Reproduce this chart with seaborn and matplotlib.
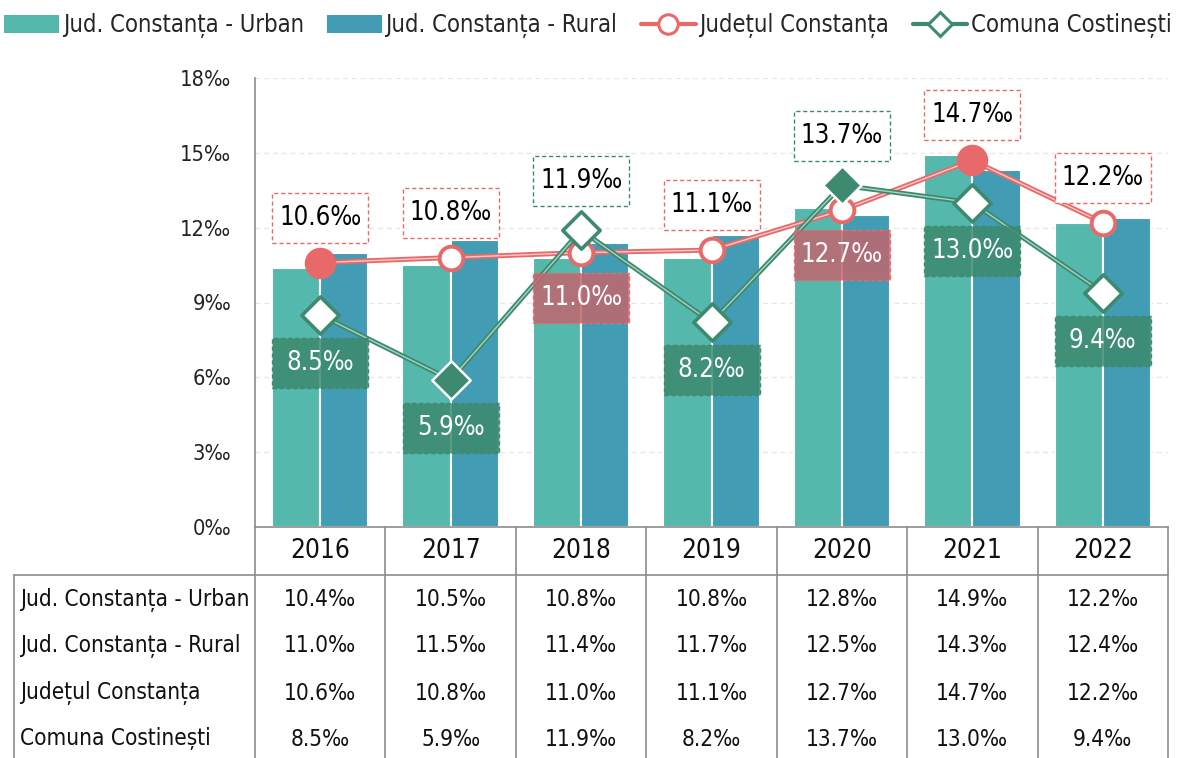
import numpy as np
import pandas as pd
import matplotlib
matplotlib.use("Agg")
import matplotlib.pyplot as plt
import matplotlib.patheffects as pe
import matplotlib.transforms as mtransforms
from matplotlib.lines import Line2D
from matplotlib.patches import Patch, Rectangle
from matplotlib import font_manager as fm
from matplotlib.font_manager import FontProperties
from matplotlib.textpath import TextPath
import seaborn as sns

# ---------------- data ----------------
years = ["2016", "2017", "2018", "2019", "2020", "2021", "2022"]
urban = [10.4, 10.5, 10.8, 10.8, 12.8, 14.9, 12.2]
rural = [11.0, 11.5, 11.4, 11.7, 12.5, 14.3, 12.4]
judet = [10.6, 10.8, 11.0, 11.1, 12.7, 14.7, 12.2]
comuna = [8.5, 5.9, 11.9, 8.2, 13.7, 13.0, 9.4]
series_names = ["Jud. Constanța - Urban", "Jud. Constanța - Rural",
                "Județul Constanța", "Comuna Costinești"]
yticks = [0, 3, 6, 9, 12, 15, 18]

# ---------------- style ----------------
TEAL = "#55B8AD"
BLUE = "#429DB4"
RED = "#E8696A"
GREEN = "#3D8A6E"
GRAY = "#8C8C8C"

sns.set_style("white")

# pick a narrow font if one is installed
ttf = fm.fontManager.ttflist
names = {f.name for f in ttf}
stretch = "normal"
if "Liberation Sans Narrow" in names:
    fam = "Liberation Sans Narrow"
elif any(f.name == "DejaVu Sans" and f.stretch == "condensed" for f in ttf):
    fam = "DejaVu Sans"
    stretch = "condensed"
else:
    fam = "Roboto"
plt.rcParams["font.family"] = [fam, "DejaVu Sans"]
plt.rcParams["font.stretch"] = stretch

# size the text so the legend label has the reference width (241 px)
fp = FontProperties(family=fam, stretch=stretch)
w100 = TextPath((0, 0), series_names[0], size=100, prop=fp).get_extents().width
base = min(19.5, 100 * (241 * 72 / 100) / w100)
FS_LEG = base
FS_TAB = base * 0.95
FS_YEAR = base * 1.1
FS_LAB = base * 1.08
FS_TICK = base * 0.92

W, H = 1183, 758
fig = plt.figure(figsize=(W / 100, H / 100), dpi=100)
ax_l, ax_r, ax_t, ax_b = 255, 1168, 78, 527
ax = fig.add_axes([ax_l / W, 1 - ax_b / H, (ax_r - ax_l) / W, (ax_b - ax_t) / H])

df = pd.DataFrame({
    "year": years * 2,
    "value": urban + rural,
    "series": [series_names[0]] * len(years) + [series_names[1]] * len(years),
})
sns.barplot(data=df, x="year", y="value", hue="series", order=years,
            hue_order=series_names[:2], palette=[TEAL, BLUE], width=0.74,
            saturation=1, edgecolor="white", linewidth=1.5, legend=False,
            ax=ax, zorder=2)

xpos = np.arange(len(years))

# axes styling (set limits before computing label positions)
ax.set_ylim(0, 18)
ax.set_xlim(-0.5, len(years) - 0.5)

# lines with a "double" look
sns.lineplot(x=xpos, y=judet, ax=ax, color="#F7C9C9", lw=1.0, zorder=4,
             path_effects=[pe.Stroke(linewidth=3.6, foreground=RED), pe.Normal()])
sns.lineplot(x=xpos, y=comuna, ax=ax, color="#A9D3C2", lw=1.0, zorder=6,
             path_effects=[pe.Stroke(linewidth=3.6, foreground=GREEN), pe.Normal()])

red_hi = [0, 5]
green_hi = [1, 4]
j = np.array(judet)
c = np.array(comuna)
normal_r = [i for i in xpos if i not in red_hi]
normal_g = [i for i in xpos if i not in green_hi]
sns.scatterplot(x=xpos[normal_r], y=j[normal_r], ax=ax, marker="o", s=290,
                color="white", edgecolor=RED, linewidth=2.8, zorder=5)
sns.scatterplot(x=xpos[red_hi], y=j[red_hi], ax=ax, marker="o", s=470,
                color=RED, edgecolor=RED, linewidth=1, zorder=5)
sns.scatterplot(x=xpos[normal_g], y=c[normal_g], ax=ax, marker="D", s=360,
                color="white", edgecolor=GREEN, linewidth=2.6, zorder=7)
sns.scatterplot(x=xpos[green_hi], y=c[green_hi], ax=ax, marker="D", s=380,
                color=GREEN, edgecolor="white", linewidth=1.8, zorder=7)

# data labels: fixed-size dashed boxes (96 x 50 px) centred above/below the point
BW, BH = 96, 50
DASH = (0, (3, 2))


def add_label(i, v, above, dist_px, edge, face, tcolor):
    px, py = ax.transData.transform((i, v))
    cy = dist_px if above else -dist_px
    trans = mtransforms.Affine2D().translate(px, py)
    ax.add_patch(Rectangle((-BW / 2, cy - BH / 2), BW, BH, transform=trans,
                           facecolor=face, edgecolor=edge, lw=1.0, ls=DASH,
                           zorder=9, clip_on=False))
    ax.annotate(f"{v:.1f}‰", (i, v), xytext=(0, cy * 72 / 100),
                textcoords="offset points", ha="center", va="center",
                fontsize=FS_LAB, color=tcolor, zorder=10)


red_below = [2, 4]
green_above = [2, 4]
for i, v in enumerate(judet):
    if i in red_below:
        add_label(i, v, False, 45, RED, (0.76, 0.40, 0.43, 0.85), "white")
    else:
        add_label(i, v, True, 45, RED, "white", "black")
for i, v in enumerate(comuna):
    if i in green_above:
        add_label(i, v, True, 49, GREEN, "white", "black")
    else:
        add_label(i, v, False, 48, GREEN, (0.24, 0.54, 0.43, 0.85), "white")

ax.set_yticks(yticks)
ax.set_yticklabels([f"{t}‰" for t in yticks])
ax.set_xticks([])
ax.set_xlabel("")
ax.set_ylabel("")
ax.tick_params(axis="y", length=7, width=1.1, color=GRAY, labelsize=FS_TICK,
               labelcolor="#222222", pad=10)
ax.grid(axis="y", color="#E6E6E6", ls=(0, (4, 3)), lw=0.9, zorder=0)
ax.set_axisbelow(True)
for s in ["top", "right"]:
    ax.spines[s].set_visible(False)
for s in ["left", "bottom"]:
    ax.spines[s].set_color(GRAY)
    ax.spines[s].set_linewidth(1.2)

# ---------------- data table ----------------
bt = mtransforms.blended_transform_factory(ax.transData, fig.transFigure)


def fy(px):
    return 1 - px / H


def fx(px):
    return px / W


for k in range(len(years) + 1):
    fig.add_artist(Line2D([k - 0.5, k - 0.5], [fy(527), fy(760)], transform=bt,
                          color=GRAY, lw=1.2))
fig.add_artist(Line2D([fx(14), fx(ax_r)], [fy(575), fy(575)], transform=fig.transFigure,
                      color=GRAY, lw=1.2))
fig.add_artist(Line2D([fx(14), fx(14)], [fy(575), fy(760)], transform=fig.transFigure,
                      color=GRAY, lw=1.2))

for i, y in enumerate(years):
    fig.text(i, fy(551), y, transform=bt, ha="center", va="center",
             fontsize=FS_YEAR, color="#111111")

rows = [urban, rural, judet, comuna]
row_y = [600, 646, 693, 739]
for r, (vals, yy) in enumerate(zip(rows, row_y)):
    fig.text(fx(20), fy(yy), series_names[r], ha="left", va="center",
             fontsize=FS_TAB, color="#111111")
    for i, v in enumerate(vals):
        fig.text(i, fy(yy), f"{v:.1f}‰", transform=bt, ha="center", va="center",
                 fontsize=FS_TAB, color="#111111")

# ---------------- legend ----------------
handles = [
    Patch(facecolor=TEAL, edgecolor="none"),
    Patch(facecolor=BLUE, edgecolor="none"),
    Line2D([0], [0], color=RED, lw=3, marker="o", ms=14, mfc="white", mec=RED, mew=2.2),
    Line2D([0], [0], color=GREEN, lw=3, marker="D", ms=12, mfc="white", mec=GREEN, mew=2.2),
]
fig.legend(handles, series_names, loc="center", bbox_to_anchor=(0.497, fy(26)),
           ncol=4, frameon=False, fontsize=FS_LEG, handlelength=2.3,
           handleheight=0.8, handletextpad=0.15, columnspacing=1.0, borderpad=0)

fig.savefig("out.png", dpi=100)
